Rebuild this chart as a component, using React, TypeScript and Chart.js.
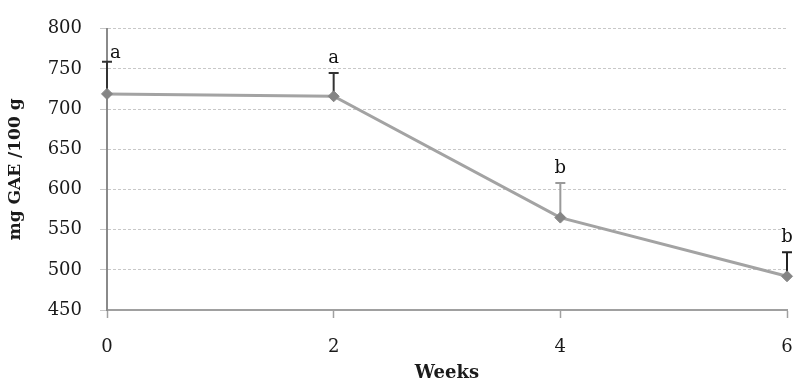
import React, { useEffect, useRef } from "react";
import { Chart, registerables } from "chart.js";

Chart.register(...registerables);

const weeks = [0, 2, 4, 6];
const gaeMeans = [719, 716, 565, 492];
const gaeSD = [40, 29, 43, 30];
const groupLetters = ["a", "a", "b", "b"];

const FONT = "'DejaVu Serif', 'Liberation Serif', serif";
const errorColors = ["#333333", "#333333", "#9a9a9a", "#222222"];

const errorBarPlugin = {
  id: "errorBars",
  beforeDatasetsDraw(chart: any) {
    const ctx = chart.ctx;
    const meta = chart.getDatasetMeta(0);
    const y = chart.scales.y;
    ctx.save();
    meta.data.forEach((pt: any, i: number) => {
      const top = y.getPixelForValue(gaeMeans[i] + gaeSD[i]);
      ctx.strokeStyle = errorColors[i];
      ctx.lineWidth = 2;
      ctx.beginPath();
      ctx.moveTo(pt.x, pt.y);
      ctx.lineTo(pt.x, top);
      ctx.moveTo(pt.x - 5, top);
      ctx.lineTo(pt.x + 5, top);
      ctx.stroke();
    });
    ctx.restore();
  },
  afterDatasetsDraw(chart: any) {
    const ctx = chart.ctx;
    const meta = chart.getDatasetMeta(0);
    const y = chart.scales.y;
    const area = chart.chartArea;
    ctx.save();
    ctx.font = `18px ${FONT}`;
    ctx.fillStyle = "#111";
    ctx.textBaseline = "alphabetic";
    meta.data.forEach((pt: any, i: number) => {
      const top = y.getPixelForValue(gaeMeans[i] + gaeSD[i]);
      let tx = pt.x;
      let ty = top - 10;
      ctx.textAlign = "center";
      if (pt.x <= area.left + 1) {
        ctx.textAlign = "left";
        tx = pt.x + 3;
        ty = top - 4;
      }
      ctx.fillText(groupLetters[i], tx, ty);
    });
    ctx.restore();
  },
};

export default function App() {
  const ref = useRef<HTMLCanvasElement>(null);
  useEffect(() => {
    if (!ref.current) return;
    const chart = new Chart(ref.current, {
      type: "line",
      data: {
        datasets: [
          {
            data: weeks.map((w, i) => ({ x: w, y: gaeMeans[i] })),
            borderColor: "#a3a3a3",
            borderWidth: 3,
            pointStyle: "rectRot",
            pointRadius: 5.5,
            pointBackgroundColor: "#858585",
            pointBorderColor: "#858585",
            pointBorderWidth: 1,
            tension: 0,
            clip: false,
          } as any,
        ],
      },
      options: {
        responsive: false,
        animation: false,
        layout: { padding: { top: 25, right: 13, bottom: 0, left: 0 } },
        plugins: { legend: { display: false }, tooltip: { enabled: false } },
        scales: {
          x: {
            type: "linear",
            min: 0,
            max: 6,
            ticks: { stepSize: 2, font: { family: FONT, size: 18 }, color: "#1a1a1a", padding: 19 },
            grid: { drawOnChartArea: false, drawTicks: true, tickLength: 8, tickColor: "#a0a0a0", tickWidth: 1.5 },
            border: { color: "#a0a0a0", width: 2 },
            title: {
              display: true,
              text: "Weeks",
              font: { family: FONT, size: 18, weight: "bold" },
              color: "#1a1a1a",
              padding: { top: 0, bottom: 6 },
            },
            afterFit: (s: any) => {
              s.height = 80;
              s.paddingLeft = 0;
              s.paddingRight = 0;
            },
          },
          y: {
            min: 450,
            max: 800,
            ticks: { stepSize: 50, font: { family: FONT, size: 18 }, color: "#1a1a1a", padding: 18 },
            grid: { color: "#c8c8c8", lineWidth: 1, drawTicks: true, tickLength: 7, tickColor: "#c8c8c8" },
            border: { color: "#8a8a8a", width: 2, dash: [3, 2] },
            title: {
              display: true,
              text: "mg GAE /100 g",
              font: { family: FONT, size: 17, weight: "bold" },
              color: "#1a1a1a",
              padding: { top: 5, bottom: 0 },
            },
            afterFit: (s: any) => {
              s.width = 107;
            },
          },
        },
      } as any,
      plugins: [errorBarPlugin],
    });
    return () => chart.destroy();
  }, []);
  return (
    <div style={{ position: "fixed", left: 0, top: 0, width: 800, height: 390, background: "#fff" }}>
      <canvas ref={ref} width={800} height={390} />
    </div>
  );
}
